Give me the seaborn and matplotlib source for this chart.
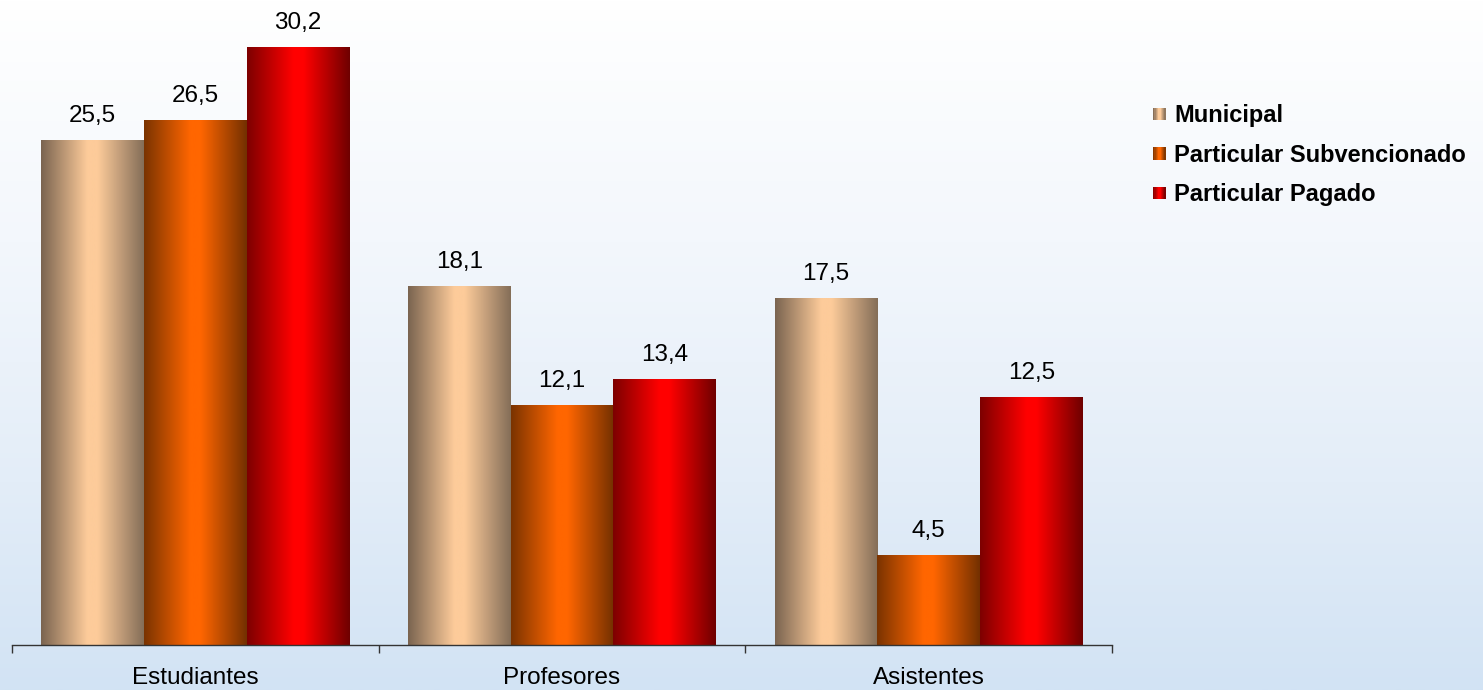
import matplotlib
matplotlib.use("Agg")
import matplotlib.pyplot as plt
import numpy as np
import pandas as pd
import seaborn as sns
from matplotlib.colors import LinearSegmentedColormap
from matplotlib.legend_handler import HandlerPatch
from matplotlib.patches import Patch, Rectangle

# ---------------- data ----------------
categories = ["Estudiantes", "Profesores", "Asistentes"]
series = ["Municipal", "Particular Subvencionado", "Particular Pagado"]
municipal = [25.5, 18.1, 17.5]
subvencionado = [26.5, 12.1, 4.5]
pagado = [30.2, 13.4, 12.5]

df = pd.DataFrame({
    "Categoria": categories * 3,
    "Tipo": [s for s in series for _ in categories],
    "Valor": municipal + subvencionado + pagado,
})

# gradient colours per series: (left edge, centre, right edge)
grad = {
    "Municipal": ("#7a6450", "#fdcb9a", "#846e58"),
    "Particular Subvencionado": ("#7a3300", "#ff6600", "#733000"),
    "Particular Pagado": ("#7d0000", "#ff0000", "#6e0000"),
}
solid = {k: v[1] for k, v in grad.items()}


def make_cmap(name):
    left, mid, right = grad[name]
    return LinearSegmentedColormap.from_list(name, [(0, left), (0.45, mid), (0.55, mid), (1, right)])


sns.set_theme(style="white")
plt.rcParams["font.family"] = ["Liberation Sans", "DejaVu Sans"]

fig = plt.figure(figsize=(14.83, 6.90), dpi=100)

# background gradient (white at top -> light blue at bottom)
bg = fig.add_axes([0, 0, 1, 1], zorder=-5)
bg_cmap = LinearSegmentedColormap.from_list("bg", [(0, "#ffffff"), (0.35, "#f3f7fc"), (0.7, "#e3edf8"), (1, "#d2e3f4")])
bg.imshow(np.linspace(0, 1, 256).reshape(-1, 1), aspect="auto", cmap=bg_cmap, extent=[0, 1, 0, 1])
bg.axis("off")

ax = fig.add_axes([12 / 1483, 45 / 690, 1100 / 1483, 645 / 690])
ax.patch.set_alpha(0)

sns.barplot(data=df, x="Categoria", y="Valor", hue="Tipo", order=categories, hue_order=series,
            palette=solid, width=0.84, linewidth=0, errorbar=None, ax=ax, legend=False)

# replace flat bars by horizontal gradients
gx = np.linspace(0, 1, 256).reshape(1, -1)
for name, cont in zip(series, ax.containers):
    cmap = make_cmap(name)
    for p in cont.patches:
        x, w, h = p.get_x(), p.get_width(), p.get_height()
        ax.imshow(gx, cmap=cmap, aspect="auto", extent=[x, x + w, 0, h], zorder=2)
        p.set_alpha(0)
    labels = [f"{v:.1f}".replace(".", ",") for v in cont.datavalues]
    ax.bar_label(cont, labels=labels, padding=10, fontsize=17.5, color="black")

ax.set_xlim(-0.5, 2.5)
ax.set_ylim(0, 32.6)
ax.set_xlabel("")
ax.set_ylabel("")
ax.set_yticks([])
for s in ["top", "right", "left"]:
    ax.spines[s].set_visible(False)
ax.spines["bottom"].set_color("#333333")
ax.spines["bottom"].set_linewidth(1.0)

ax.set_xticks([-0.5, 0.5, 1.5, 2.5])
ax.set_xticklabels([])
ax.tick_params(axis="x", which="major", length=6, width=1, color="#333333", direction="out", bottom=True)
ax.set_xticks([0, 1, 2], minor=True)
ax.set_xticklabels(categories, minor=True, fontsize=17.5, color="black")
ax.tick_params(axis="x", which="minor", length=0, pad=16)


# legend with small gradient squares
class GradHandler(HandlerPatch):
    def create_artists(self, legend, orig_handle, xdescent, ydescent, width, height, fontsize, trans):
        cmap = make_cmap(orig_handle.get_label())
        n = 10
        s = min(width, height)
        x0 = width - s
        y0 = (height - s) / 2
        arts = []
        for i in range(n):
            r = Rectangle((x0 - xdescent + i * s / n, y0 - ydescent), s / n + 0.05, s,
                          facecolor=cmap((i + 0.5) / n), edgecolor="none", transform=trans)
            arts.append(r)
        return arts


handles = [Patch(label=s) for s in series]
fig.legend(handles=handles, labels=series, loc="upper left", bbox_to_anchor=(1132 / 1483, 1 - 83 / 690),
           frameon=False, handler_map={Patch: GradHandler()}, handlelength=0.52, handleheight=0.52,
           handletextpad=0.38, labelspacing=0.7, labelcolor="black",
           prop={"weight": "bold", "size": 17})

fig.savefig("out.png", dpi=100)
